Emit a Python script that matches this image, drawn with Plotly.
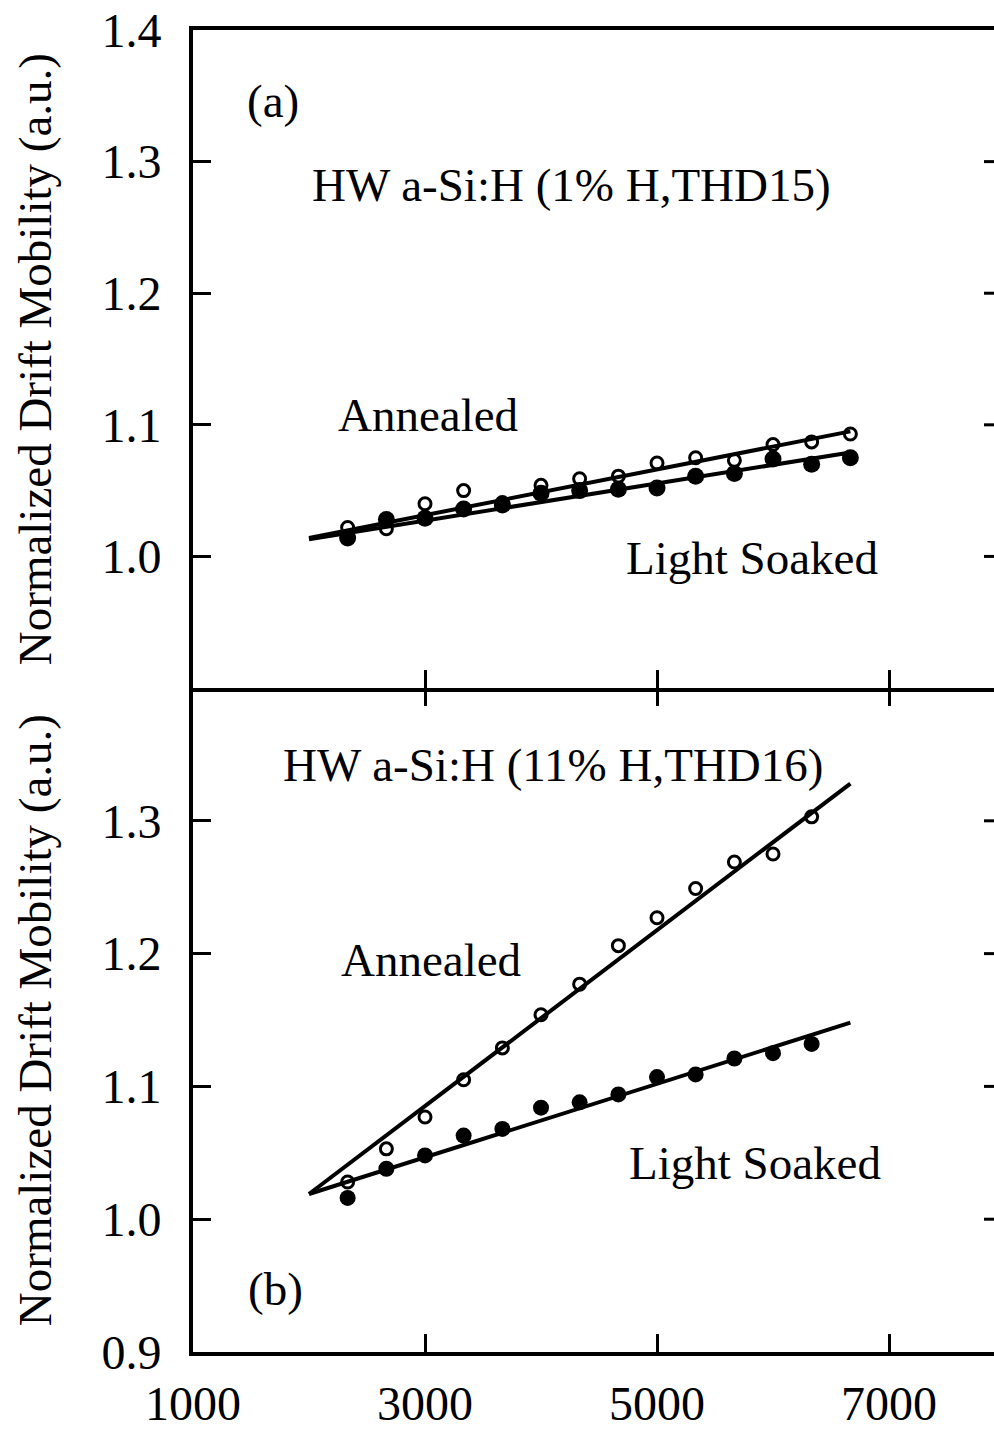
import plotly.graph_objects as go

# Bias values shared by both samples (x axis)
x_a = [2333, 2667, 3000, 3333, 3667, 4000, 4333, 4667, 5000, 5333, 5667, 6000, 6333, 6667]
x_b = [2333, 2667, 3000, 3333, 3667, 4000, 4333, 4667, 5000, 5333, 5667, 6000, 6333]

# (a) HW a-Si:H, 1% H, THD15
annealed_a = [1.022, 1.021, 1.040, 1.050, 1.041, 1.054, 1.059, 1.061, 1.071, 1.075, 1.073, 1.085, 1.087, 1.093]
soaked_a = [1.014, 1.028, 1.029, 1.036, 1.039, 1.048, 1.050, 1.051, 1.052, 1.061, 1.063, 1.074, 1.070, 1.075]

# (b) HW a-Si:H, 11% H, THD16
annealed_b = [1.028, 1.053, 1.077, 1.105, 1.129, 1.154, 1.177, 1.206, 1.227, 1.249, 1.269, 1.275, 1.303]
soaked_b = [1.016, 1.038, 1.048, 1.063, 1.068, 1.084, 1.088, 1.094, 1.107, 1.109, 1.121, 1.125, 1.132]

# Straight-line fits (end points)
fit_x = [2000, 6667]
fit_annealed_a = [1.014, 1.095]
fit_soaked_a = [1.013, 1.079]
fit_annealed_b = [1.019, 1.328]
fit_soaked_b = [1.019, 1.148]

# Axis ticks
x_range = [1000, 7905]
x_tickvals = [1000, 3000, 5000, 7000]
x_ticktext = ["1000", "3000", "5000", "7000"]
x_inner_ticks = [3000, 5000, 7000]
y_ticks_a = [1.0, 1.1, 1.2, 1.3, 1.4]
y_ticks_b = [0.9, 1.0, 1.1, 1.2, 1.3]
y_range = [0.9, 1.4]

y_title = "Normalized Drift Mobility (a.u.)"

FONT = "Liberation Serif"
SPLIT = 0.50225

fig = go.Figure()

def add_panel(xv, ann, soak, fa, fs, xa, ya, filled_size):
    for fy in (fa, fs):
        fig.add_trace(go.Scatter(x=fit_x, y=fy, mode="lines", xaxis=xa, yaxis=ya,
                                 line=dict(color="black", width=4), showlegend=False))
    fig.add_trace(go.Scatter(x=xv, y=soak, mode="markers", xaxis=xa, yaxis=ya,
                             marker=dict(symbol="circle", size=filled_size, color="black"),
                             showlegend=False))
    fig.add_trace(go.Scatter(x=xv, y=ann, mode="markers", xaxis=xa, yaxis=ya,
                             marker=dict(symbol="circle-open", size=12, color="black",
                                         line=dict(width=3, color="black")),
                             showlegend=False))

add_panel(x_a, annealed_a, soaked_a, fit_annealed_a, fit_soaked_a, "x", "y", 17)
add_panel(x_b, annealed_b, soaked_b, fit_annealed_b, fit_soaked_b, "x2", "y2", 16)

# empty trace so the upper tick row of the lower panel gets drawn
fig.add_trace(go.Scatter(x=[x_range[0]], y=[None], xaxis="x3", yaxis="y2",
                         mode="markers", showlegend=False, hoverinfo="skip"))

tick_font = dict(family=FONT, size=48, color="black")
common_x = dict(range=x_range, showgrid=False, zeroline=False, showline=True,
                linecolor="black", linewidth=4, ticks="inside", ticklen=18,
                tickwidth=3, tickcolor="black")
common_y = dict(range=y_range, showgrid=False, zeroline=False, showline=True,
                linecolor="black", linewidth=4, ticks="inside", ticklen=18,
                tickwidth=3, tickcolor="black", tickfont=tick_font,
                ticklabelstandoff=18)

fig.update_layout(
    width=994, height=1430,
    margin=dict(l=193, r=0, t=30, b=68),
    paper_bgcolor="white", plot_bgcolor="white",
    font=dict(family=FONT, color="black"),
    xaxis=dict(common_x, anchor="y", domain=[0, 1], tickvals=x_inner_ticks,
               showticklabels=False, mirror=True),
    yaxis=dict(common_y, anchor="x", domain=[SPLIT, 1], tickvals=y_ticks_a,
               ticktext=[f"{v:.1f}" for v in y_ticks_a]),
    xaxis2=dict(common_x, anchor="y2", domain=[0, 1], tickvals=x_tickvals,
                ticktext=x_ticktext, tickfont=tick_font, ticklabelstandoff=6),
    xaxis3=dict(range=x_range, overlaying="x2", anchor="y2", side="top",
                showgrid=False, zeroline=False, showline=False, ticks="inside",
                ticklen=18, tickwidth=3, tickcolor="black",
                tickvals=x_inner_ticks, showticklabels=False),
    yaxis2=dict(common_y, anchor="x2", domain=[0, SPLIT], tickvals=y_ticks_b,
                ticktext=[f"{v:.1f}" for v in y_ticks_b]),
)

# short ticks along the right edge
shapes = []
for yref, vals in (("y", y_ticks_a[:-1]), ("y2", y_ticks_b[1:])):
    for v in vals:
        shapes.append(dict(type="line", xref="paper", yref=yref,
                           x0=0.9875, x1=1.0, y0=v, y1=v,
                           line=dict(color="black", width=3)))
fig.update_layout(shapes=shapes)

txt = dict(family=FONT, size=47, color="black")
annotations = [
    dict(text=y_title, xref="paper", yref="y domain", x=-0.197, y=0.5,
         textangle=-90, showarrow=False, font=txt, xanchor="center", yanchor="middle"),
    dict(text=y_title, xref="paper", yref="y2 domain", x=-0.197, y=0.5,
         textangle=-90, showarrow=False, font=txt, xanchor="center", yanchor="middle"),
    dict(text="(a)", xref="x", yref="y", x=1690, y=1.3457, showarrow=False, font=txt),
    dict(text="HW a-Si:H (1% H,THD15)", xref="x", yref="y", x=4267, y=1.2824,
         showarrow=False, font=txt),
    dict(text="Annealed", xref="x", yref="y", x=3026, y=1.1074, showarrow=False, font=txt),
    dict(text="Light Soaked", xref="x", yref="y", x=5819, y=0.9988, showarrow=False, font=txt),
    dict(text="HW a-Si:H (11% H,THD16)", xref="x2", yref="y2", x=4103, y=1.3417,
         showarrow=False, font=txt),
    dict(text="Annealed", xref="x2", yref="y2", x=3052, y=1.1952, showarrow=False, font=txt),
    dict(text="Light Soaked", xref="x2", yref="y2", x=5845, y=1.042, showarrow=False, font=txt),
    dict(text="(b)", xref="x2", yref="y2", x=1707, y=0.9478, showarrow=False, font=txt),
]
fig.update_layout(annotations=annotations)

fig.write_html("out.html")
